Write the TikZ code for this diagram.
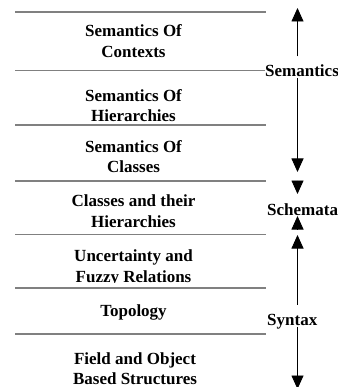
\documentclass[tikz,border=0pt]{standalone}
\usepackage{fontspec}
\setmainfont{Liberation Serif}
\usetikzlibrary{arrows.meta}
\newcommand{\twolines}[2]{\begin{tabular}[t]{@{}c@{}}#1\\#2\end{tabular}}
\begin{document}
\begin{tikzpicture}[x=1pt,y=-1pt,
  layer/.style={font=\bfseries\fontsize{17}{20.5}\selectfont, anchor=base, inner sep=0pt},
  sep/.style={draw=black!50, line width=1.3pt},
  tag/.style={font=\bfseries\fontsize{17}{20.5}\selectfont, anchor=base west, inner sep=0pt},
  gaptag/.style={tag, fill=white, text height=20pt, text depth=1.5pt},
  axis/.style={line width=0.9pt},
  head/.style={-{Triangle[width=12pt,length=13.5pt]}}
]
\useasboundingbox (0,0) rectangle (337,387);

% separating rules between the layers
\foreach \y/\n in {12/r0, 70.5/r1, 125/r2, 181/r3, 234.5/r4, 288/r5, 334/r6} {
  \coordinate (\n a) at (15,\y);
  \coordinate (\n b) at (266,\y);
  \draw[sep] (\n a) -- (\n b);
}

% layer texts
\node[layer] (ctx) at (133.5,36.7) {\twolines{Semantics Of}{Contexts}};
\node[layer] (hier) at (133.5,101.4) {\twolines{Semantics Of}{Hierarchies}};
\node[layer] (cls) at (133.5,152.5) {\twolines{Semantics Of}{Classes}};
\node[layer] (clh) at (133.5,206.5) {\twolines{Classes and their}{Hierarchies}};
\begin{scope}
  \clip (0,240) rectangle (337,282.3);
  \node[layer] (fuz) at (133.5,261.6) {\twolines{Uncertainty and}{Fuzzy Relations}};
\end{scope}
\node[layer] (top) at (133.5,316.3) {Topology};
\begin{scope}
  \clip (0,340) rectangle (337,384.3);
  \node[layer] (fld) at (135,364) {\twolines{Field and Object}{Based Structures}};
\end{scope}

% Semantics span
\coordinate (semT) at (297.5,8);
\coordinate (semB) at (297.5,172);
\node[gaptag] (sem) at (265,76.5) {Semantics};
\draw[axis,head] (sem.north -| semT) -- (semT);
\draw[axis,head] (sem.south -| semB) -- (semB);

% Schemata marker
\node[tag] (sch) at (267,215) {Schemata};
\coordinate (schA) at (297.5,180.5);
\coordinate (schB) at (297.5,194);
\coordinate (schC) at (297.5,229.5);
\coordinate (schD) at (297.5,216);
\draw[axis,head] (schA) -- (schB);
\draw[axis,head] (schC) -- (schD);

% Syntax span
\coordinate (synT) at (297.5,235);
\coordinate (synB) at (297.5,389);
\node[gaptag] (syn) at (267,325) {Syntax};
\draw[axis,head] (syn.north -| synT) -- (synT);
\draw[axis,head] (syn.south -| synB) -- (synB);
\end{tikzpicture}
\end{document}
